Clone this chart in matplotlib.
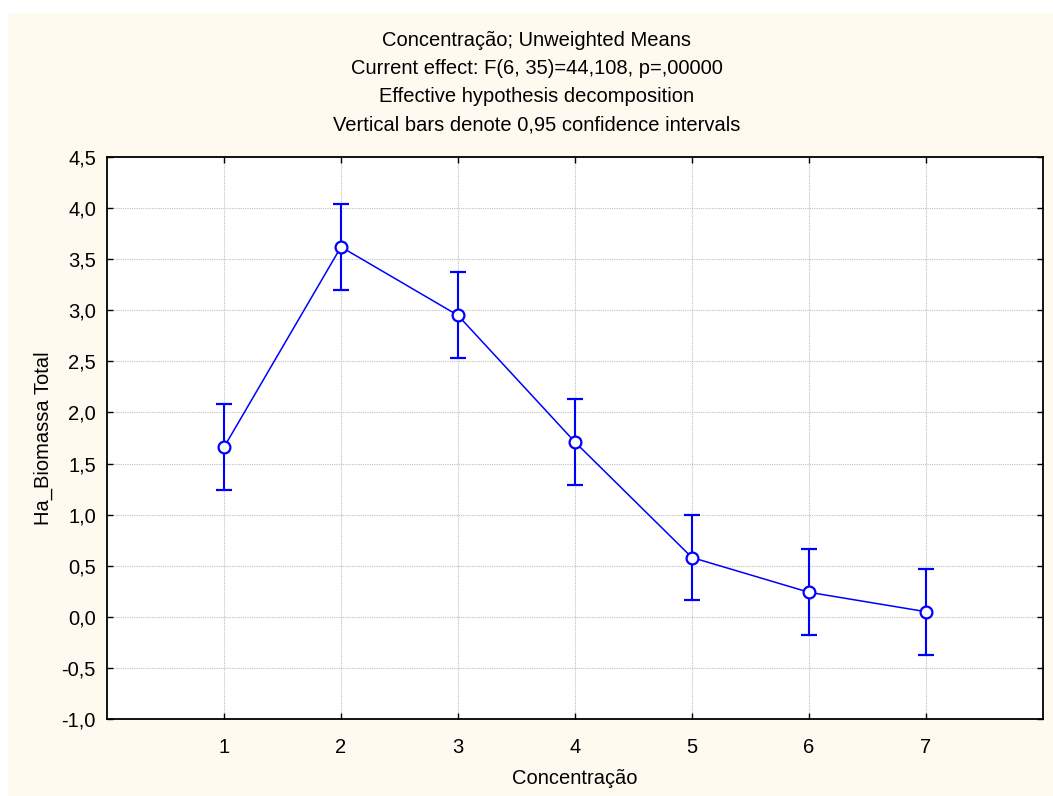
import matplotlib.pyplot as plt
from matplotlib.ticker import FuncFormatter

# data
conc = [1, 2, 3, 4, 5, 6, 7]
means = [1.66, 3.62, 2.95, 1.71, 0.58, 0.24, 0.05]
ci = [0.42, 0.42, 0.42, 0.42, 0.42, 0.42, 0.42]

title_lines = [
    "Concentração; Unweighted Means",
    "Current effect: F(6, 35)=44,108, p=,00000",
    "Effective hypothesis decomposition",
    "Vertical bars denote 0,95 confidence intervals",
]

plt.rcParams['font.family'] = ['Liberation Sans', 'DejaVu Sans']
fs = 14.5

fig = plt.figure(figsize=(10.53, 7.96), dpi=100)
# beige panel with a thin white margin top/left
fig.patches.append(plt.Rectangle((8 / 1053, 0), 1 - 8 / 1053, 1 - 13 / 796,
                                 transform=fig.transFigure, facecolor='#FFFAF0',
                                 edgecolor='none', zorder=-10))

ax = fig.add_axes([107 / 1053, 1 - 719 / 796, (1043 - 107) / 1053, (719 - 157) / 796])
ax.set_facecolor('white')

ax.errorbar(conc, means, yerr=ci, color='#0000FF', lw=1.1, elinewidth=1.5,
            capsize=6, capthick=1.2, marker='o', ms=8.5, mfc='white',
            mec='#0000FF', mew=1.6, zorder=3)

ax.set_xlim(0, 8)
ax.set_ylim(-1.0, 4.5)
ax.set_xticks(conc)
ax.set_yticks([-1.0 + 0.5 * i for i in range(12)])
ax.yaxis.set_major_formatter(FuncFormatter(lambda v, p: f"{v:.1f}".replace('.', ',')))

ax.grid(True, color='#c0c0c0', ls=(0, (1, 1)), lw=0.8)
ax.tick_params(direction='in', length=4, width=1, top=True, right=True,
               labelsize=fs)
ax.tick_params(axis='x', pad=14)
ax.tick_params(axis='y', pad=8)
for s in ax.spines.values():
    s.set_linewidth(1.3)

ax.set_xlabel("Concentração", fontsize=fs, labelpad=8)
ax.set_ylabel("Ha_Biomassa Total", fontsize=fs, labelpad=6)

for i, line in enumerate(title_lines):
    fig.text(537 / 1053, 1 - (41 + 28 * i) / 796, line, ha='center', va='center',
             fontsize=fs)

fig.savefig("out.png", dpi=100)
